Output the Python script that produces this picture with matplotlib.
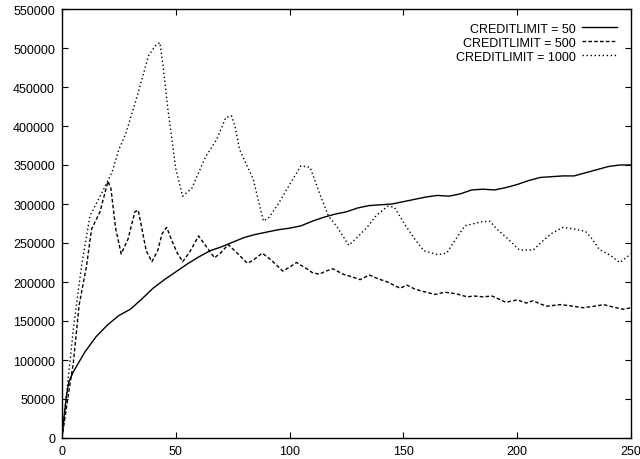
import matplotlib
matplotlib.use('Agg')
import matplotlib.pyplot as plt

plt.rcParams['font.family'] = ['Liberation Sans', 'DejaVu Sans']

# CREDITLIMIT = 50
x50 = [0, 1, 2, 3, 5, 8, 10, 15, 20, 25, 30, 35, 40, 45, 50, 55, 60, 65, 70, 75,
       80, 85, 90, 95, 100, 105, 110, 115, 120, 125, 130, 135, 140, 145, 150, 155,
       160, 165, 170, 175, 180, 185, 190, 195, 200, 205, 210, 215, 220, 225, 230,
       235, 240, 245, 250]
y50 = [0, 30000, 55000, 72000, 85000, 100000, 110000, 130000, 145000, 157000,
       165000, 178000, 192000, 203000, 213000, 223000, 232000, 240000, 245000,
       251000, 257000, 261000, 264000, 267000, 269000, 272000, 278000, 283000,
       287000, 290000, 295000, 298000, 299000, 300000, 303000, 306000, 309000,
       311000, 310000, 313000, 318000, 319000, 318000, 321000, 325000, 330000,
       334000, 335000, 336000, 336000, 340000, 344000, 348000, 350000, 350000]

# CREDITLIMIT = 500
x500 = [0, 2.5, 5, 7.5, 10.8, 13, 16.7, 20.2, 21.5, 23.5, 26, 29, 32, 33.5, 35,
        37, 39.5, 42, 44, 46, 48, 50.5, 53, 56, 60, 63.5, 67, 70, 73, 77, 81.5,
        84, 88, 92, 97, 100, 103, 107, 110, 113, 116, 119, 123.5, 127, 131, 135,
        139, 143, 148.5, 151.5, 155, 158.5, 164, 168, 173, 178, 181, 185, 189,
        192, 195, 200, 204, 207, 210, 213, 219, 222, 229, 234, 238, 242, 246.5, 250]
y500 = [0, 50000, 97000, 170000, 221000, 268000, 290000, 329000, 320000, 270000,
        236000, 255000, 290000, 292000, 270000, 240000, 226000, 240000, 262000,
        270000, 255000, 238000, 226000, 238000, 259000, 245000, 231000, 238000,
        248000, 237000, 224000, 228000, 237000, 228000, 214000, 219000, 225000,
        218000, 212000, 210000, 214000, 217000, 210000, 207000, 203000, 209000,
        204000, 200000, 192000, 196000, 191000, 188000, 184000, 187000, 185000,
        181000, 182000, 181000, 182000, 178000, 174000, 177000, 173000, 176000,
        172000, 169000, 171000, 170000, 167000, 169000, 171000, 168000, 165000,
        167000]

# CREDITLIMIT = 1000
x1000 = [0, 2.5, 5, 8.6, 12.3, 15, 19, 22, 25, 28, 33, 38, 41, 43, 44.5, 46.5,
         50, 53, 57, 63, 68, 72, 74.5, 76, 78, 84, 88.5, 91, 95, 99, 105, 109,
         113, 117, 121, 126, 130, 134, 138, 143, 146, 151, 155, 159, 165, 169,
         173, 177, 184, 188, 191, 196, 201, 207, 211, 215, 220, 225, 230, 233,
         236, 241, 245, 250]
y1000 = [0, 70000, 140000, 221000, 285000, 300000, 323000, 341000, 370000,
         390000, 438000, 490000, 503000, 507000, 475000, 422000, 345000, 310000,
         320000, 360000, 383000, 411000, 413000, 400000, 370000, 332000, 278000,
         283000, 300000, 320000, 349000, 347000, 315000, 285000, 270000, 247000,
         258000, 270000, 285000, 297000, 296000, 272000, 255000, 240000, 235000,
         237000, 255000, 272000, 277000, 278000, 268000, 255000, 241000, 241000,
         252000, 262000, 270000, 268000, 265000, 255000, 242000, 234000, 225000,
         236000]

fig = plt.figure(figsize=(6.4, 4.6), dpi=100)
ax = fig.add_axes([62 / 640, 21 / 460, 569 / 640, 429 / 460])

ax.plot(x50, y50, color="black", linewidth=1.0, linestyle="-",
        label="CREDITLIMIT = 50")
ax.plot(x500, y500, color="black", linewidth=1.0, linestyle=(0, (2.6, 1.6)),
        label="CREDITLIMIT = 500")
ax.plot(x1000, y1000, color="black", linewidth=1.0, linestyle=(0, (1.0, 1.9)),
        label="CREDITLIMIT = 1000")

ax.set_xlim(0, 250)
ax.set_ylim(0, 550000)
ax.set_xticks(range(0, 251, 50))
ax.set_yticks(range(0, 550001, 50000))
ax.tick_params(direction="in", length=4.5, width=0.8, top=True, right=True,
               labelsize=9, colors="black")
ax.tick_params(axis="x", pad=5)
ax.tick_params(axis="y", pad=5)
for s in ax.spines.values():
    s.set_linewidth(1.0)

ax.legend(loc="upper right", markerfirst=False, frameon=False, fontsize=9,
          handlelength=2.8, handletextpad=0.5, labelspacing=0.15,
          borderaxespad=0.7)

fig.savefig("out.png", dpi=100, facecolor="white")
